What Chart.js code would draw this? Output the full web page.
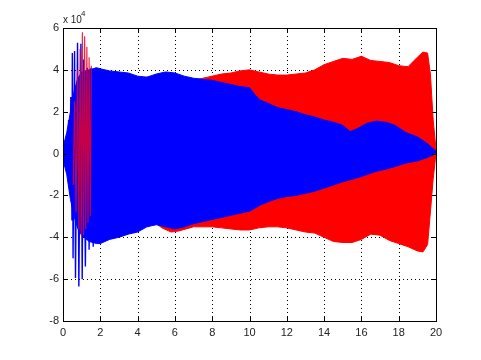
<!DOCTYPE html>
<html>
<head>
<meta charset="utf-8">
<script src="https://cdn.jsdelivr.net/npm/chart.js@4/dist/chart.umd.min.js"></script>
<style>
  html, body { margin: 0; padding: 0; background: #fff; }
  #wrap { width: 481px; height: 360px; }
</style>
</head>
<body>
<div id="wrap"><canvas id="grafica" width="481" height="360"></canvas></div>
<script>
// values in units of 10^4
const xTicks = [0, 2, 4, 6, 8, 10, 12, 14, 16, 18, 20];
const yTicks = [-8, -6, -4, -2, 0, 2, 4, 6];

// blue envelope
const blueT = [0, 0.2, 0.4, 0.6, 0.8, 1.0, 1.4, 1.8, 2.0, 2.5, 3.0, 3.5, 4.0, 4.5, 5.0, 5.5, 6.0, 6.5, 7.0, 7.5, 8.0, 8.5, 9.0, 9.5, 10.0, 10.3, 10.6, 11.0, 11.5, 12.0, 12.5, 13.0, 13.5, 14.0, 14.5, 15.0, 15.4, 15.8, 16.3, 16.8, 17.3, 17.8, 18.4, 19.0, 19.5, 19.9, 20.0];
const blueTop = [0.3, 1.0, 2.0, 3.0, 3.6, 3.9, 4.0, 4.1, 4.05, 3.95, 3.9, 3.85, 3.7, 3.65, 3.8, 3.9, 3.85, 3.7, 3.6, 3.55, 3.5, 3.4, 3.3, 3.2, 3.15, 2.8, 2.55, 2.4, 2.2, 2.1, 2.0, 1.85, 1.75, 1.6, 1.5, 1.35, 1.05, 1.2, 1.45, 1.55, 1.5, 1.35, 1.0, 0.8, 0.5, 0.2, 0.1];
const blueBot = [-0.3, -1.0, -2.2, -3.0, -3.6, -3.9, -4.2, -4.3, -4.3, -4.1, -4.0, -3.85, -3.75, -3.5, -3.4, -3.5, -3.6, -3.5, -3.35, -3.25, -3.15, -3.05, -2.95, -2.85, -2.75, -2.6, -2.45, -2.3, -2.15, -2.05, -2.0, -1.9, -1.8, -1.65, -1.5, -1.35, -1.25, -1.15, -1.0, -0.85, -0.75, -0.62, -0.45, -0.35, -0.2, -0.05, 0.05];

// red envelope
const redT = [1.5, 2.0, 3.0, 4.0, 5.0, 5.3, 5.8, 6.2, 6.6, 7.0, 7.5, 8.0, 8.5, 9.0, 9.5, 10.0, 10.5, 11.0, 11.5, 12.0, 12.5, 13.0, 13.5, 14.0, 14.5, 15.0, 15.5, 16.0, 16.5, 17.0, 17.5, 18.0, 18.5, 19.0, 19.3, 19.55, 19.7, 19.85, 20.0];
const redTop = [4.0, 3.9, 3.8, 3.6, 3.7, 3.75, 3.8, 3.7, 3.55, 3.5, 3.6, 3.7, 3.8, 3.85, 3.95, 4.0, 3.9, 3.8, 3.75, 3.75, 3.8, 3.85, 4.0, 4.25, 4.4, 4.55, 4.5, 4.65, 4.45, 4.4, 4.35, 4.2, 4.15, 4.6, 4.85, 4.8, 3.8, 1.6, 0.2];
const redBot = [-4.0, -4.0, -3.8, -3.5, -3.35, -3.55, -3.75, -3.7, -3.6, -3.5, -3.5, -3.5, -3.55, -3.6, -3.65, -3.65, -3.55, -3.5, -3.5, -3.55, -3.65, -3.75, -3.8, -4.0, -4.2, -4.25, -4.25, -4.1, -3.85, -3.9, -4.15, -4.3, -4.45, -4.65, -4.7, -4.35, -2.8, -1.2, 0];

// early spikes
const blueSpikeT = [0.25, 0.3, 0.36, 0.42, 0.48, 0.5, 0.54, 0.62, 0.67, 0.78, 0.85, 0.96, 1.03, 1.1, 1.2, 1.3, 1.4, 1.5, 1.62, 1.75];
const blueSpikeV = [-0.6, 1.6, -1.2, 2.7, -3.2, 4.8, -5.0, 4.9, -5.95, 5.3, -6.35, 5.25, -6.0, 4.5, -5.4, 4.1, -4.6, 4.1, -4.45, 4.1];
const redSpikeT = [0.55, 0.62, 0.7, 0.78, 0.85, 0.92, 0.98, 1.04, 1.1, 1.16, 1.22, 1.28, 1.34, 1.4, 1.46, 1.52];
const redSpikeV = [-1.5, 2.5, -2.8, 4.0, -3.6, 5.0, -3.9, 5.8, -3.9, 5.6, -3.6, 5.1, -3.3, 4.6, -3.0, 4.2];

function pts(t, v) {
  return t.map((x, i) => ({ x: x, y: v[i] }));
}

const rojo = "#ff0000";
const azul = "#0000ff";

// grid, box and inward ticks like the original axes
const ejes = {
  id: "ejes",
  beforeDatasetsDraw(chart) {
    const { ctx, chartArea: a, scales } = chart;
    ctx.save();
    ctx.strokeStyle = "#000";
    ctx.lineWidth = 1;
    ctx.setLineDash([1, 3]);
    xTicks.forEach((v) => {
      if (v === xTicks[0] || v === xTicks[xTicks.length - 1]) return;
      const px = Math.round(scales.x.getPixelForValue(v)) + 0.5;
      ctx.beginPath();
      ctx.moveTo(px, a.top);
      ctx.lineTo(px, a.bottom);
      ctx.stroke();
    });
    yTicks.forEach((v) => {
      if (v === yTicks[0] || v === yTicks[yTicks.length - 1]) return;
      const py = Math.round(scales.y.getPixelForValue(v)) + 0.5;
      ctx.beginPath();
      ctx.moveTo(a.left, py);
      ctx.lineTo(a.right, py);
      ctx.stroke();
    });
    ctx.restore();
  },
  afterDatasetsDraw(chart) {
    const { ctx, chartArea: a, scales } = chart;
    ctx.save();
    ctx.strokeStyle = "#000";
    ctx.lineWidth = 1;
    ctx.strokeRect(Math.round(a.left) + 0.5, Math.round(a.top) + 0.5,
      Math.round(a.right - a.left), Math.round(a.bottom - a.top));
    const tl = 4;
    ctx.beginPath();
    xTicks.forEach((v) => {
      const px = Math.round(scales.x.getPixelForValue(v)) + 0.5;
      ctx.moveTo(px, a.bottom);
      ctx.lineTo(px, a.bottom - tl);
      ctx.moveTo(px, a.top);
      ctx.lineTo(px, a.top + tl);
    });
    yTicks.forEach((v) => {
      const py = Math.round(scales.y.getPixelForValue(v)) + 0.5;
      ctx.moveTo(a.left, py);
      ctx.lineTo(a.left + tl, py);
      ctx.moveTo(a.right, py);
      ctx.lineTo(a.right - tl, py);
    });
    ctx.stroke();
    // exponent label
    ctx.fillStyle = "#222";
    ctx.textBaseline = "alphabetic";
    ctx.textAlign = "left";
    ctx.font = "10px 'Liberation Sans', Arial, sans-serif";
    ctx.fillText("x 10", a.left, a.top - 5);
    ctx.font = "8px 'Liberation Sans', Arial, sans-serif";
    ctx.fillText("4", a.left + ctx.measureText("x 10").width + 3, a.top - 12);
    ctx.restore();
  },
};

const lienzo = document.getElementById("grafica").getContext("2d");

new Chart(lienzo, {
  type: "line",
  data: {
    datasets: [
      {
        label: "red spikes",
        data: pts(redSpikeT, redSpikeV),
        borderColor: "rgba(230,0,40,0.85)",
        borderWidth: 1.2,
        pointRadius: 0,
        fill: false,
      },
      {
        label: "blue spikes",
        data: pts(blueSpikeT, blueSpikeV),
        borderColor: azul,
        borderWidth: 1.4,
        pointRadius: 0,
        fill: false,
      },
      {
        label: "blue top",
        data: pts(blueT, blueTop),
        borderColor: azul,
        backgroundColor: azul,
        borderWidth: 1,
        pointRadius: 0,
        fill: "+1",
      },
      {
        label: "blue bottom",
        data: pts(blueT, blueBot),
        borderColor: azul,
        borderWidth: 1,
        pointRadius: 0,
        fill: false,
      },
      {
        label: "red top",
        data: pts(redT, redTop),
        borderColor: rojo,
        backgroundColor: rojo,
        borderWidth: 1,
        pointRadius: 0,
        fill: "+1",
      },
      {
        label: "red bottom",
        data: pts(redT, redBot),
        borderColor: rojo,
        borderWidth: 1,
        pointRadius: 0,
        fill: false,
      },
    ],
  },
  options: {
    responsive: false,
    animation: false,
    events: [],
    layout: { padding: { left: 0, top: 28, right: 45, bottom: 0 } },
    elements: { line: { tension: 0 } },
    plugins: {
      legend: { display: false },
      tooltip: { enabled: false },
    },
    scales: {
      x: {
        type: "linear",
        min: 0,
        max: 20,
        afterBuildTicks: (s) => { s.ticks = xTicks.map((v) => ({ value: v })); },
        afterFit: (s) => { s.height = 39; },
        grid: { display: false, drawTicks: false },
        border: { display: false },
        ticks: {
          padding: 5,
          color: "#222",
          font: { family: "'Liberation Sans', Arial, sans-serif", size: 11 },
          maxRotation: 0,
        },
      },
      y: {
        type: "linear",
        min: -8,
        max: 6,
        afterBuildTicks: (s) => { s.ticks = yTicks.map((v) => ({ value: v })); },
        afterFit: (s) => { s.width = 63; },
        grid: { display: false, drawTicks: false },
        border: { display: false },
        ticks: {
          padding: 4,
          color: "#222",
          font: { family: "'Liberation Sans', Arial, sans-serif", size: 11 },
        },
      },
    },
  },
  plugins: [ejes],
});
</script>
</body>
</html>
